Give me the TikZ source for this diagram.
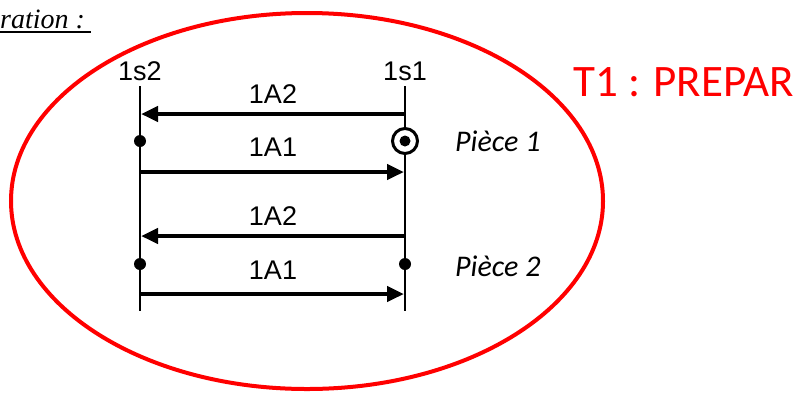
\documentclass[tikz,border=0pt]{standalone}
\usepackage{fontspec}
\setmainfont{Liberation Serif}
\newfontfamily\arialf{Liberation Sans}
\newfontfamily\calib{Carlito}
\usetikzlibrary{arrows.meta}
\definecolor{redline}{RGB}{255,0,0}
\tikzset{
  lbl/.style={font=\arialf\fontsize{27}{30}\selectfont, inner sep=0pt},
  piece/.style={font=\calib\itshape\fontsize{30}{34}\selectfont, inner sep=0pt},
  vline/.style={line width=2.8pt},
  act/.style={line width=4.5pt, -{Triangle[length=17pt,width=15pt]}},
  dotc/.style={circle, fill, inner sep=0pt, minimum size=12pt},
}
\begin{document}
\begin{tikzpicture}[x=1pt,y=-1pt]
\useasboundingbox (0,0) rectangle (805,392);
% title
\node[anchor=base west, inner sep=0pt, font=\itshape\fontsize{28}{32}\selectfont] (ttl) at (0,28) {ration :};
\draw[line width=1.4pt] (0,32) -- (91,32);
% ellipse
\draw[redline, line width=4pt] (307,201) ellipse [x radius=296, y radius=188];
% T1
\node[anchor=base west, inner sep=0pt, text=redline, font=\calib\fontsize{45}{50}\selectfont] (t1) at (573,96) {T1 : PREPAR};
% verticals
\coordinate (Ltop) at (140,86); \coordinate (Lbot) at (140,311);
\coordinate (Rtop) at (405,86); \coordinate (Rbot) at (405,311);
\draw[vline] (Ltop) -- (Lbot);
\draw[vline] (Rtop) -- (Rbot);
\node[lbl, anchor=base] (s2) at (140,80) {1s2};
\node[lbl, anchor=base] (s1) at (405,80) {1s1};
% first cycle
\coordinate (a1s) at (405,114); \coordinate (a1e) at (141,114);
\draw[act] (a1s) -- (a1e);
\node[lbl, anchor=base] (l1) at (273,103) {1A2};
\node[dotc] (d1) at (140,141) {};
\node[circle, draw, line width=3pt, fill=white, minimum size=25pt, inner sep=0pt] (c1) at (405,141) {};
\node[dotc, minimum size=11pt] (c1i) at (405,141) {};
\node[lbl, anchor=base] (l2) at (273,156) {1A1};
\coordinate (a2s) at (140,172); \coordinate (a2e) at (404,172);
\draw[act] (a2s) -- (a2e);
\node[piece, anchor=base west] (p1) at (455,151) {Pièce 1};
% second cycle
\coordinate (a3s) at (405,236); \coordinate (a3e) at (141,236);
\draw[act] (a3s) -- (a3e);
\node[lbl, anchor=base] (l3) at (273,225) {1A2};
\node[dotc] (d2) at (140,264) {};
\node[dotc] (d3) at (405,264) {};
\node[lbl, anchor=base] (l4) at (273,279) {1A1};
\coordinate (a4s) at (140,294); \coordinate (a4e) at (404,294);
\draw[act] (a4s) -- (a4e);
\node[piece, anchor=base west] (p2) at (455,276) {Pièce 2};
\end{tikzpicture}
\end{document}
